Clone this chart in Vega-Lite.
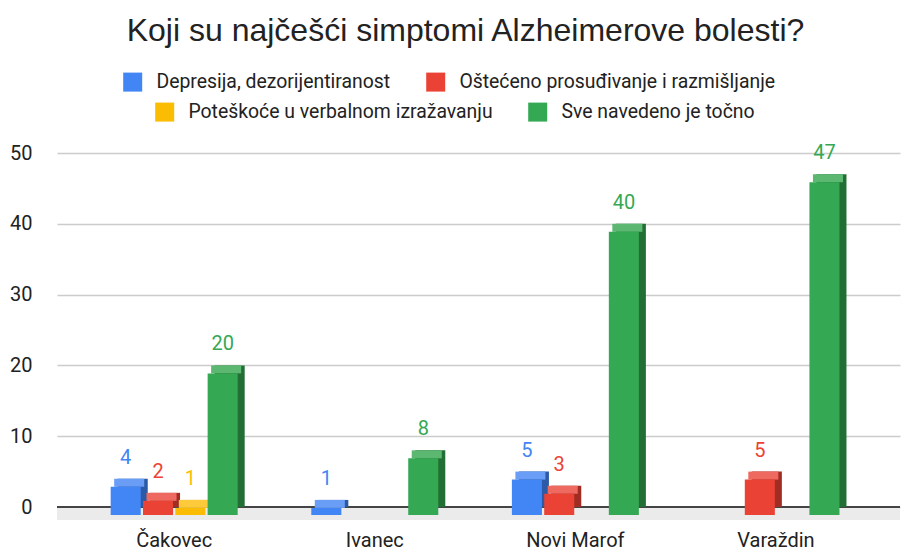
{
  "$schema": "https://vega.github.io/schema/vega-lite/v6.json",
  "width": 843,
  "height": 354,
  "autosize": {"type": "none"},
  "padding": {"left": 57, "top": 153, "right": 2, "bottom": 43},
  "background": "#ffffff",
  "title": {
    "text": "Koji su najčešći simptomi Alzheimerove bolesti?",
    "font": "Liberation Sans",
    "fontSize": 32,
    "fontWeight": "normal",
    "color": "#222222",
    "anchor": "middle",
    "frame": "group",
    "offset": 24,
    "dx": -13
  },
  "config": {
    "view": {"stroke": null},
    "legend": {
      "orient": "none",
      "direction": "horizontal",
      "symbolType": "square",
      "symbolSize": 361,
      "symbolStrokeWidth": 0,
      "symbolOpacity": 1,
      "labelFont": "Roboto",
      "labelFontSize": 19.4,
      "labelColor": "#222222",
      "labelLimit": 600,
      "labelOffset": 14,
      "columnPadding": 35,
      "title": null
    }
  },
  "data": {
    "values": [
      {"grad": "Čakovec", "simptom": "Depresija, dezorijentiranost", "broj": 4},
      {"grad": "Čakovec", "simptom": "Oštećeno prosuđivanje i razmišljanje", "broj": 2},
      {"grad": "Čakovec", "simptom": "Poteškoće u verbalnom izražavanju", "broj": 1},
      {"grad": "Čakovec", "simptom": "Sve navedeno je točno", "broj": 20},
      {"grad": "Ivanec", "simptom": "Depresija, dezorijentiranost", "broj": 1},
      {"grad": "Ivanec", "simptom": "Sve navedeno je točno", "broj": 8},
      {"grad": "Novi Marof", "simptom": "Depresija, dezorijentiranost", "broj": 5},
      {"grad": "Novi Marof", "simptom": "Oštećeno prosuđivanje i razmišljanje", "broj": 3},
      {"grad": "Novi Marof", "simptom": "Sve navedeno je točno", "broj": 40},
      {"grad": "Varaždin", "simptom": "Oštećeno prosuđivanje i razmišljanje", "broj": 5},
      {"grad": "Varaždin", "simptom": "Sve navedeno je točno", "broj": 47}
    ]
  },
  "encoding": {
    "x": {
      "field": "grad",
      "type": "nominal",
      "sort": ["Čakovec", "Ivanec", "Novi Marof", "Varaždin"],
      "scale": {"paddingInner": 0.367, "paddingOuter": 0.2847, "align": 0.47},
      "axis": {
        "title": null,
        "labelAngle": 0,
        "labelFont": "Roboto",
        "labelFontSize": 20,
        "labelColor": "#222222",
        "labelPadding": 23,
        "domain": false,
        "ticks": false
      }
    },
    "y": {
      "field": "broj",
      "type": "quantitative",
      "scale": {"domain": [0, 50], "nice": false},
      "axis": {
        "title": null,
        "values": [0, 10, 20, 30, 40, 50],
        "labelFont": "Roboto",
        "labelFontSize": 20,
        "labelColor": "#222222",
        "labelPadding": 25,
        "domain": false,
        "ticks": false,
        "gridColor": "#cccccc",
        "gridWidth": 1.3
      }
    }
  },
  "layer": [
    {
      "mark": {"type": "rule", "color": "#ebebeb", "strokeWidth": 13, "yOffset": 6.5},
      "encoding": {"y": {"datum": 0}, "x": null}
    },
    {
      "mark": {"type": "rule", "color": "#444444", "strokeWidth": 1.3},
      "encoding": {"y": {"datum": 0}, "x": null}
    },
    {
      "mark": {"type": "bar"},
      "encoding": {
        "xOffset": {
          "field": "simptom",
          "type": "nominal",
          "scale": {
            "domain": ["Depresija, dezorijentiranost", "Oštećeno prosuđivanje i razmišljanje", "Poteškoće u verbalnom izražavanju", "Sve navedeno je točno"],
            "paddingInner": 0.07,
            "paddingOuter": 0,
            "range": [7, 134]
          }
        },
        "y2": {"datum": 0},
        "color": {
          "field": "simptom",
          "type": "nominal",
          "legend": null,
          "scale": {
            "domain": ["Depresija, dezorijentiranost", "Oštećeno prosuđivanje i razmišljanje", "Poteškoće u verbalnom izražavanju", "Sve navedeno je točno"],
            "range": ["#2c5aa6", "#a02c24", "#b98a03", "#226e35"]
          }
        }
      }
    },
    {
      "mark": {"type": "bar", "y2Offset": 8},
      "encoding": {
        "xOffset": {
          "field": "simptom",
          "type": "nominal",
          "scale": {
            "domain": ["Depresija, dezorijentiranost", "Oštećeno prosuđivanje i razmišljanje", "Poteškoće u verbalnom izražavanju", "Sve navedeno je točno"],
            "paddingInner": 0.07,
            "paddingOuter": 0,
            "range": [3.5, 130.5]
          }
        },
        "y2": {"field": "broj"},
        "color": {
          "field": "simptom",
          "type": "nominal",
          "legend": null,
          "scale": {
            "domain": ["Depresija, dezorijentiranost", "Oštećeno prosuđivanje i razmišljanje", "Poteškoće u verbalnom izražavanju", "Sve navedeno je točno"],
            "range": ["#699df6", "#ee695f", "#fcca3a", "#5cb771"]
          }
        }
      }
    },
    {
      "mark": {"type": "bar", "yOffset": 8, "y2Offset": 8},
      "encoding": {
        "xOffset": {
          "field": "simptom",
          "type": "nominal",
          "scale": {
            "domain": ["Depresija, dezorijentiranost", "Oštećeno prosuđivanje i razmišljanje", "Poteškoće u verbalnom izražavanju", "Sve navedeno je točno"],
            "paddingInner": 0.07,
            "paddingOuter": 0,
            "range": [0, 127]
          }
        },
        "y2": {"datum": 0},
        "color": {
          "field": "simptom",
          "type": "nominal",
          "scale": {
            "domain": ["Depresija, dezorijentiranost", "Oštećeno prosuđivanje i razmišljanje", "Poteškoće u verbalnom izražavanju", "Sve navedeno je točno"],
            "range": ["#4285f4", "#ea4335", "#fbbc04", "#34a853"]
          },
          "legend": {
            "values": ["Depresija, dezorijentiranost", "Oštećeno prosuđivanje i razmišljanje"],
            "legendX": 66,
            "legendY": -81
          }
        }
      }
    },
    {
      "mark": {"type": "text", "font": "Roboto", "fontSize": 20, "baseline": "alphabetic", "dy": -15},
      "encoding": {
        "xOffset": {
          "field": "simptom",
          "type": "nominal",
          "scale": {
            "type": "point",
            "domain": ["Depresija, dezorijentiranost", "Oštećeno prosuđivanje i razmišljanje", "Poteškoće u verbalnom izražavanju", "Sve navedeno je točno"],
            "padding": 0,
            "range": [15, 112]
          }
        },
        "text": {"field": "broj", "type": "quantitative"},
        "color": {
          "field": "simptom",
          "type": "nominal",
          "scale": {
            "domain": ["Depresija, dezorijentiranost", "Oštećeno prosuđivanje i razmišljanje", "Poteškoće u verbalnom izražavanju", "Sve navedeno je točno"],
            "range": ["#4285f4", "#ea4335", "#fbbc04", "#34a853"]
          },
          "legend": {
            "values": ["Poteškoće u verbalnom izražavanju", "Sve navedeno je točno"],
            "legendX": 98,
            "legendY": -51
          }
        }
      }
    }
  ],
  "resolve": {"scale": {"color": "independent", "xOffset": "independent"}}
}
